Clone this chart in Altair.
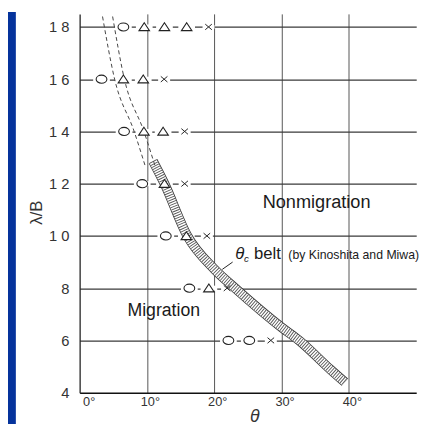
import altair as alt
import pandas as pd

# ---------------- data ----------------
x_ticks = [0, 10, 20, 30, 40]
y_ticks = [4, 6, 8, 10, 12, 14, 16, 18]

circle_theta = [6.5, 3.25, 6.6, 9.3, 12.8, 16.3, 22.1, 25.2]
circle_lam = [18, 16, 14, 12, 10, 8, 6, 6]
tri_theta = [9.6, 12.6, 15.9, 6.5, 9.45, 9.55, 12.4, 12.6, 15.85, 19.2]
tri_lam = [18, 18, 18, 16, 16, 14, 14, 12, 10, 8]
cross_theta = [19.15, 12.55, 15.6, 15.6, 18.9, 21.9, 28.4]
cross_lam = [18, 16, 14, 12, 10, 8, 6]

belt_theta = [10.9, 12.6, 16.0, 20.0, 23.1, 30.0, 32.6, 37.2, 39.4]
belt_lam = [12.86, 12.0, 10.0, 8.73, 8.0, 6.5, 6.0, 4.9, 4.4]

dash_left_theta = [3.4, 5.2, 8.1, 9.75]
dash_left_lam = [18.4, 16, 14, 12.67]
dash_right_theta = [4.9, 6.65, 9.55, 11.3]
dash_right_lam = [18.4, 16, 14, 12.6]

FONT = "Liberation Sans"
INK = "#222222"

obs_c = pd.DataFrame({"theta": circle_theta, "lam": circle_lam})
obs_t = pd.DataFrame({"theta": tri_theta, "lam": tri_lam})
obs_x = pd.DataFrame({"theta": cross_theta, "lam": cross_lam})
obs_ct = pd.concat([obs_c, obs_t])
belt = pd.DataFrame({"theta": belt_theta, "lam": belt_lam})
dl = pd.DataFrame({"theta": dash_left_theta, "lam": dash_left_lam})
dr = pd.DataFrame({"theta": dash_right_theta, "lam": dash_right_lam})

x_axis = alt.Axis(
    values=x_ticks, labelExpr="datum.value + '°'", ticks=False,
    domainColor="#111111", domainWidth=1.6,
    gridColor="#555555", gridWidth=1,
    gridOpacity={"condition": {"test": "datum.value == 0", "value": 0}, "value": 1},
    labelFont=FONT, labelFontSize=13, labelColor="#333333",
    labelPadding=3, labelOffset=3,
    title="θ", titleFont=FONT, titleFontSize=18, titleFontStyle="italic",
    titleFontWeight="normal", titleColor="#333333",
    titleX=178, titleY=24, titleBaseline="middle", titleAlign="center",
)
y_axis = alt.Axis(
    values=y_ticks,
    labelExpr="datum.value >= 10 ? '1 ' + (datum.value - 10) : datum.label",
    ticks=False, domainColor="#222222", domainWidth=1.3,
    gridColor="#3a3a3a", gridWidth=1.1,
    gridOpacity={"condition": {"test": "datum.value == 4", "value": 0}, "value": 1},
    labelFont=FONT, labelFontSize=15, labelColor="#333333",
    labelPadding=11, labelBaseline="middle",
    title="λ/B", titleFont=FONT, titleFontSize=17, titleFontWeight="normal",
    titleColor="#333333", titleX=-44, titleY=202, titleAngle=-90,
    titleBaseline="middle", titleAlign="center",
)
xs = alt.Scale(domain=[0, 50], nice=False, zero=False)
ys = alt.Scale(domain=[4, 18.5], nice=False, zero=False)
X = alt.X("theta:Q", scale=xs, axis=x_axis)
Y = alt.Y("lam:Q", scale=ys, axis=y_axis)

# blue slide strip on the left
strip = alt.Chart(pd.DataFrame({"a": [0]})).mark_rect(color="#05339c").encode(
    x=alt.value(-73), x2=alt.value(-65), y=alt.value(-2), y2=alt.value(418)
)

halo_big = alt.Chart(obs_ct).mark_point(
    shape="M-1,-0.3L1,-0.3L1,0.3L-1,0.3Z", size=290, filled=True,
    fill="white", strokeWidth=0, opacity=1
).encode(x=X, y=Y)
halo_small = alt.Chart(obs_x).mark_point(
    shape="M-1,-0.3L1,-0.3L1,0.3L-1,0.3Z", size=150, filled=True,
    fill="white", strokeWidth=0, opacity=1
).encode(x=X, y=Y)

belt_out = alt.Chart(belt).mark_line(
    color="#333333", strokeWidth=9.8, strokeCap="butt", interpolate="monotone"
).encode(x=X, y=Y)
belt_in = alt.Chart(belt).mark_line(
    color="white", strokeWidth=8.2, strokeCap="butt", interpolate="monotone"
).encode(x=X, y=Y)
belt_hatch = alt.Chart(belt).mark_line(
    color="#555555", strokeWidth=8.2, strokeCap="butt", strokeDash=[0.9, 1.5],
    interpolate="monotone"
).encode(x=X, y=Y)

dash_l = alt.Chart(dl).mark_line(
    color="#444444", strokeWidth=1, strokeDash=[4, 3], interpolate="monotone"
).encode(x=X, y=Y)
dash_r = alt.Chart(dr).mark_line(
    color="#444444", strokeWidth=1, strokeDash=[4, 3], interpolate="monotone"
).encode(x=X, y=Y)

circles = alt.Chart(obs_c).mark_point(
    shape="M-1,0A1,0.75 0 1,0 1,0A1,0.75 0 1,0 -1,0Z", size=120, filled=True,
    fill="white", stroke=INK, strokeWidth=1.1, opacity=1
).encode(x=X, y=Y)
tris = alt.Chart(obs_t).mark_point(
    shape="M0,-0.8L1,0.7L-1,0.7Z", size=115, filled=True,
    fill="white", stroke=INK, strokeWidth=1.1, opacity=1
).encode(x=X, y=Y)
crosses = alt.Chart(obs_x).mark_point(
    shape="M-1,-0.85L1,0.85M-1,0.85L1,-0.85", size=45,
    stroke=INK, strokeWidth=1, opacity=1
).encode(x=X, y=Y)

leader = alt.Chart(pd.DataFrame({"theta": [22.73], "lam": [9.0],
                                 "theta2": [21.19], "lam2": [8.72]})).mark_rule(
    color=INK, strokeWidth=1
).encode(x=X, y=Y, x2="theta2:Q", y2="lam2:Q")


def label(txt, th, lm, size, style="normal", weight="normal", align="center"):
    return alt.Chart(pd.DataFrame({"theta": [th], "lam": [lm], "t": [txt]})).mark_text(
        font=FONT, fontSize=size, fontStyle=style, fontWeight=weight,
        align=align, baseline="middle", color="#1a1a1a"
    ).encode(x=X, y=Y, text="t:N")


texts = [
    label("Nonmigration", 35.2, 11.28, 18.5),
    label("Migration", 12.5, 7.12, 18),
    label("θ", 23.1, 9.29, 17, style="italic", align="left"),
    label("c", 24.4, 9.12, 10, style="italic", align="left"),
    label("belt", 25.9, 9.3, 17, align="left"),
    label("(by Kinoshita and Miwa)", 31.0, 9.27, 12.5, align="left"),
]

chart = alt.layer(
    strip, halo_big, halo_small, belt_out, belt_in, belt_hatch, dash_l, dash_r,
    circles, tris, crosses, leader, *texts
).properties(
    width=343, height=386,
    autosize=alt.AutoSizeParams(type="none"),
    padding={"left": 73, "top": 2, "right": 12, "bottom": 32},
    background="white",
).configure_view(stroke=None)

chart.save("out.html", embed_options={"renderer": "svg", "actions": False})
